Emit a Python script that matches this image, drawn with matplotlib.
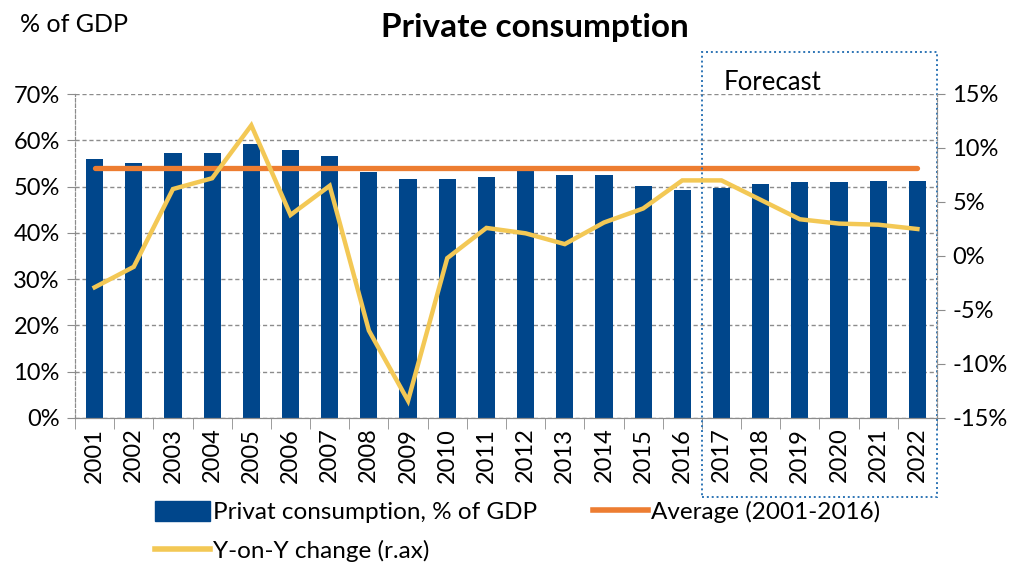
import numpy as np
import matplotlib.pyplot as plt
from matplotlib.patches import Rectangle, Patch
from matplotlib.lines import Line2D
import matplotlib.transforms as mtransforms

plt.rcParams['font.family'] = ['Lato', 'DejaVu Sans']

# data
years = [str(y) for y in range(2001, 2023)]
priv_cons = [56.0, 55.0, 57.2, 57.2, 59.2, 58.0, 56.7, 53.2, 51.6, 51.6, 52.0,
             53.4, 52.6, 52.4, 50.1, 49.2, 49.7, 50.6, 50.9, 51.0, 51.1, 51.1]
yoy = [-2.9, -1.0, 6.2, 7.2, 12.1, 3.8, 6.5, -6.9, -13.4, -0.2, 2.6,
       2.1, 1.1, 3.1, 4.4, 7.0, 7.0, 5.2, 3.4, 3.0, 2.9, 2.5]
avg_years = 16  # 2001-2016
left_ticks = [0, 10, 20, 30, 40, 50, 60, 70]
right_ticks = [-15, -10, -5, 0, 5, 10, 15]

blue = '#00468B'
orange = '#ED7D31'
yellow = '#F3C855'
grey = '#8C8C8C'

fig = plt.figure(figsize=(10.2, 5.65), dpi=100)
ax = fig.add_axes([75 / 1020, 1 - 418 / 565, (937 - 75) / 1020, (418 - 94) / 565])
ax2 = ax.twinx()

x = np.arange(len(years))
avg = np.mean(priv_cons[:avg_years])

ax.bar(x, priv_cons, width=0.44, color=blue, zorder=2)
ax.plot(x, [avg] * len(x), color=orange, lw=3.8, solid_capstyle='round', zorder=3)
ax2.plot(x, yoy, color=yellow, lw=3.2, solid_joinstyle='miter', zorder=4)

ax.set_xlim(-0.5, len(x) - 0.5)
ax.set_ylim(0, 70)
ax2.set_ylim(-15, 15)

ax.set_yticks(left_ticks)
ax.set_yticklabels([f'{v}%' for v in left_ticks], fontsize=17)
ax2.set_yticks(right_ticks)
ax2.set_yticklabels([f'{v}%' for v in right_ticks], fontsize=17)

ax.set_xticks(x)
ax.set_xticklabels(years, rotation=90, fontsize=17)
ax.set_xticks(np.arange(-0.5, len(x), 1), minor=True)
ax.tick_params(axis='x', which='major', length=0, pad=7)
ax.tick_params(axis='x', which='minor', length=8, color=grey)
ax.tick_params(axis='y', length=6, color=grey, pad=5)
ax2.tick_params(axis='y', length=6, color=grey, pad=5)

ax.grid(axis='y', color=grey, ls=(0, (3, 2)), lw=1, zorder=0)
ax.set_axisbelow(True)
for a in (ax, ax2):
    a.spines['top'].set_visible(False)
    a.spines['left'].set_color(grey)
    a.spines['left'].set_linestyle((0, (3, 2)))
    a.spines['right'].set_color(grey)
    a.spines['right'].set_linestyle((0, (3, 2)))
    a.spines['bottom'].set_color(grey)

# forecast box
trans = mtransforms.blended_transform_factory(ax.transData, ax.transAxes)
ax.add_patch(Rectangle((15.5, -0.244), 6.0, 1.374, transform=trans, fill=False,
                       ec='#2E75B6', lw=1.4, ls=(0, (1, 1.5)), clip_on=False, zorder=5))
ax.text(15.5 + 0.55, 1.035, 'Forecast', transform=trans, fontsize=18.5, va='center', ha='left')

fig.text(535 / 1020, 1 - 28 / 565, 'Private consumption', fontsize=24, fontweight='bold',
         ha='center', va='center')
fig.text(20 / 1020, 1 - 24 / 565, '% of GDP', fontsize=18, ha='left', va='center')

handles = [Patch(color=blue), Line2D([], [], color=yellow, lw=4), Line2D([], [], color=orange, lw=4)]
labels = ['Privat consumption, % of GDP', 'Y-on-Y change (r.ax)', 'Average (2001-2016)']
fig.legend(handles, labels, ncol=2, loc='upper left', bbox_to_anchor=(155 / 1020, 1 - 501 / 565),
           frameon=False, fontsize=17.5, handlelength=2.26, handleheight=0.9, handletextpad=0.12,
           columnspacing=2.3, labelspacing=0.68, borderpad=0, borderaxespad=0)

fig.savefig('out.png', dpi=100)
